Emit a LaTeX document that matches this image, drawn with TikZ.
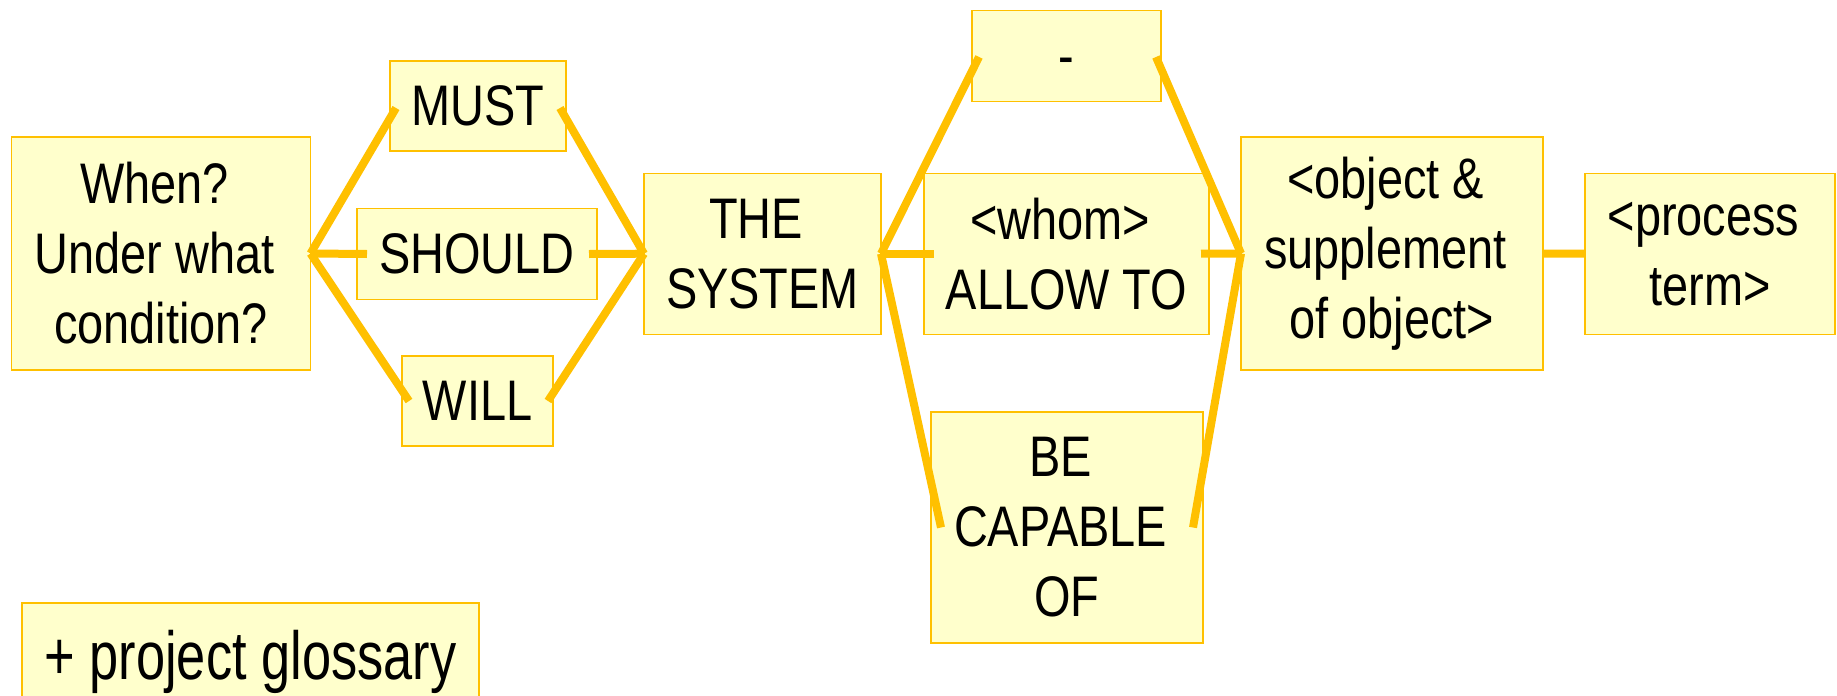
\documentclass[tikz,border=0pt]{standalone}
\usepackage{fontspec}
\setmainfont{Liberation Sans}[FakeStretch=0.82]
\newfontfamily\glossfont{Liberation Sans}[FakeStretch=0.77]
\usetikzlibrary{calc}
\definecolor{gold}{HTML}{FFC000}
\definecolor{boxfill}{HTML}{FFFFCC}
\newcommand\trsp{\hphantom{\ }}
\tikzset{
  box/.style={draw=gold, line width=0.7pt, fill=boxfill, inner sep=0pt, outer sep=0pt,
    align=center, font=\fontsize{28.6}{35}\selectfont},
  conn/.style={draw=gold, line width=4pt}
}
\begin{document}
\begin{tikzpicture}[x=0.5pt, y=-0.5pt]
\clip (0,0) rectangle (1837,696);
\fill[white] (0,0) rectangle (1837,696);
% boxes
\node[box, minimum width=149.5pt, minimum height=116.5pt] (when) at (161,253.5) {When?\trsp\\Under what\trsp\\condition?};
\node[box, minimum width=88pt, minimum height=45pt] (must) at (478,106) {MUST};
\node[box, minimum width=120pt, minimum height=45.5pt] (should) at (477,254) {SHOULD};
\node[box, minimum width=75.5pt, minimum height=45pt] (will) at (477.5,401) {WILL};
\node[box, minimum width=118.5pt, minimum height=80.5pt] (system) at (762.5,253.7) {THE\trsp\\SYSTEM};
\node[box, minimum width=94.5pt, minimum height=45.5pt] (dash) at (1066.5,56) {\vphantom{M}-};
\node[box, minimum width=142.5pt, minimum height=80.5pt] (allow) at (1066.5,253.7) {<whom>\trsp\\ALLOW TO};
\node[box, minimum width=136pt, minimum height=115.5pt] (capable) at (1067,527.5) {BE\trsp\\CAPABLE\trsp\\OF};
\node[box, minimum width=151pt, minimum height=116.5pt] (object) at (1392,253.5) {<object \&\trsp\\supplement\trsp\\of object>};
\node[box, minimum width=125pt, minimum height=80.5pt] (process) at (1710,253.7) {<process\trsp\\term>};
\node[box, minimum width=228.5pt, minimum height=58.5pt, font=\glossfont\fontsize{34}{40}\selectfont] (glossary) at (250.5,661.5) {+ project glossary};
% connectors
\draw[conn] (when.east) -- ($(must.west)+(6,2)$);
\draw[conn] (when.east) -- ($(should.west)+(10,0)$);
\draw[conn] (when.east) -- ($(will.west)+(7,0)$);
\draw[conn] ($(must.east)+(-6,2)$) -- (system.west);
\draw[conn] ($(should.east)+(-8,0)$) -- (system.west);
\draw[conn] ($(will.east)+(-5,0)$) -- (system.west);
\draw[conn] (system.east) -- ($(dash.west)+(7,1)$);
\draw[conn] (system.east) -- ($(allow.west)+(10,0)$);
\draw[conn] (system.east) -- ($(capable.west)+(10,0)$);
\draw[conn] ($(dash.east)+(-5,1)$) -- (object.west);
\draw[conn] ($(allow.east)+(-8,0)$) -- (object.west);
\draw[conn] ($(capable.east)+(-10,0)$) -- (object.west);
\draw[conn] (object.east) -- (process.west);
\end{tikzpicture}
\end{document}
